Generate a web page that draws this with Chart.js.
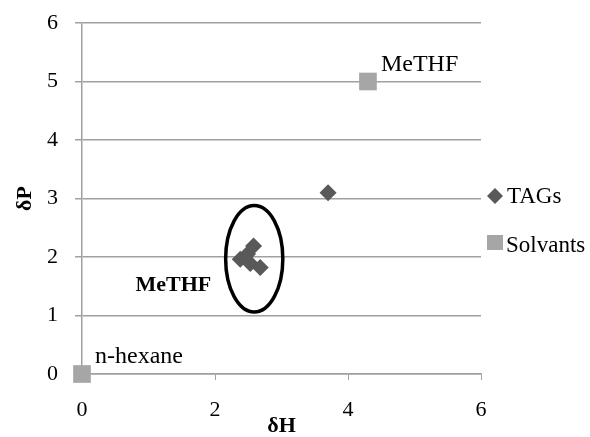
<!DOCTYPE html>
<html>
<head>
<meta charset="utf-8">
<script src="https://cdn.jsdelivr.net/npm/chart.js@4.4.0/dist/chart.umd.min.js"></script>
<style>
html,body{margin:0;padding:0;background:#fff;}
#wrap{width:590px;height:437px;position:relative;}
</style>
</head>
<body>
<div id="wrap"><canvas id="c" width="590" height="437"></canvas></div>
<script>
// ---- data ----
const seriesNames = ['TAGs', 'Solvants'];
const tagsX = [3.7, 2.58, 2.49, 2.38, 2.53, 2.68];
const tagsY = [3.1, 2.19, 2.05, 1.96, 1.89, 1.82];
const solvX = [4.3, 0];
const solvY = [5, 0];
const solvLabels = ['MeTHF', 'n-hexane'];
const clusterLabel = 'MeTHF';
const clusterCenter = [2.59, 1.97];
const clusterRadii = [0.43, 0.91];
const xTicks = [0, 2, 4, 6];
const yTicks = [0, 1, 2, 3, 4, 5, 6];
const xTitle = 'δH';
const yTitle = 'δP';

const FONT = '"Liberation Serif", "Times New Roman", serif';
const tagColor = '#595959';
const solvColor = '#A6A6A6';
const gridColor = '#A0A0A0';

const tagsData = tagsX.map((x, i) => ({x: x, y: tagsY[i]}));
const solvData = solvX.map((x, i) => ({x: x, y: solvY[i]}));

const annot = {
  id: 'annot',
  afterDatasetsDraw(chart) {
    const ctx = chart.ctx;
    const xs = chart.scales.x, ys = chart.scales.y;
    ctx.save();
    const cx = xs.getPixelForValue(clusterCenter[0]);
    const cy = ys.getPixelForValue(clusterCenter[1]);
    const rx = Math.abs(xs.getPixelForValue(clusterCenter[0] + clusterRadii[0]) - cx);
    const ry = Math.abs(ys.getPixelForValue(clusterCenter[1] + clusterRadii[1]) - cy);
    ctx.beginPath();
    ctx.ellipse(cx, cy, rx, ry, 0, 0, Math.PI * 2);
    ctx.lineWidth = 3.5;
    ctx.strokeStyle = '#000';
    ctx.stroke();
    ctx.fillStyle = '#000';
    ctx.font = 'bold 22px ' + FONT;
    ctx.textAlign = 'right';
    ctx.textBaseline = 'alphabetic';
    ctx.fillText(clusterLabel, cx - 43, cy + 32);
    ctx.font = '24px ' + FONT;
    ctx.textAlign = 'left';
    solvData.forEach((p, i) => {
      const px = xs.getPixelForValue(p.x), py = ys.getPixelForValue(p.y);
      ctx.fillText(solvLabels[i], px + 13, py - 11);
    });
    ctx.restore();
  },
  afterDraw(chart) {
    const ctx = chart.ctx;
    ctx.save();
    ctx.font = '23px ' + FONT;
    ctx.textAlign = 'left';
    ctx.textBaseline = 'alphabetic';
    ctx.fillStyle = tagColor;
    ctx.beginPath();
    ctx.moveTo(495, 196 - 8); ctx.lineTo(503, 196); ctx.lineTo(495, 196 + 8); ctx.lineTo(487, 196); ctx.closePath();
    ctx.fill();
    ctx.fillStyle = '#000';
    ctx.fillText(seriesNames[0], 507, 203);
    ctx.fillStyle = solvColor;
    ctx.fillRect(487, 235, 16, 15);
    ctx.fillStyle = '#000';
    ctx.fillText(seriesNames[1], 506, 252);
    ctx.restore();
  }
};

new Chart(document.getElementById('c'), {
  type: 'scatter',
  data: {
    datasets: [
      {label: seriesNames[0], data: tagsData, pointStyle: 'rectRot', pointRadius: 8.5, pointHoverRadius: 8.5,
       backgroundColor: tagColor, borderColor: tagColor, borderWidth: 0, clip: false},
      {label: seriesNames[1], data: solvData, pointStyle: 'rect', pointRadius: 12.5, pointHoverRadius: 12.5,
       backgroundColor: solvColor, borderColor: solvColor, borderWidth: 0, clip: false}
    ]
  },
  options: {
    responsive: false,
    animation: false,
    devicePixelRatio: 1,
    layout: {padding: {left: 0, right: 109, top: 23, bottom: 0}},
    plugins: {legend: {display: false}, tooltip: {enabled: false}},
    scales: {
      x: {
        type: 'linear', min: 0, max: 6,
        afterBuildTicks(s) { s.ticks = xTicks.map(v => ({value: v})); },
        afterFit(s) { s.height = 63; s.paddingLeft = 0; s.paddingRight = 0; },
        grid: {drawOnChartArea: false, drawTicks: true, tickLength: 6, color: gridColor, lineWidth: 1},
        border: {display: true, color: gridColor, width: 1.5},
        ticks: {color: '#000', font: {family: FONT, size: 22}, padding: 17, maxRotation: 0},
        title: {display: true, text: xTitle, color: '#000', font: {family: FONT, size: 22, weight: 'bold', lineHeight: 1.0}, padding: {top: 0, bottom: 0}}
      },
      y: {
        type: 'linear', min: 0, max: 6,
        afterBuildTicks(s) { s.ticks = yTicks.map(v => ({value: v})); },
        afterFit(s) { s.width = 82; s.paddingTop = 0; s.paddingBottom = 0; },
        grid: {drawOnChartArea: true, drawTicks: true, tickLength: 7, color: gridColor, lineWidth: 1.5},
        border: {display: true, color: gridColor, width: 1.5},
        ticks: {color: '#000', font: {family: FONT, size: 22}, padding: 17},
        title: {display: true, text: yTitle, color: '#000', font: {family: FONT, size: 22, weight: 'bold', lineHeight: 1.0}, padding: {top: 14, bottom: 0}}
      }
    }
  },
  plugins: [annot]
});
</script>
</body>
</html>
